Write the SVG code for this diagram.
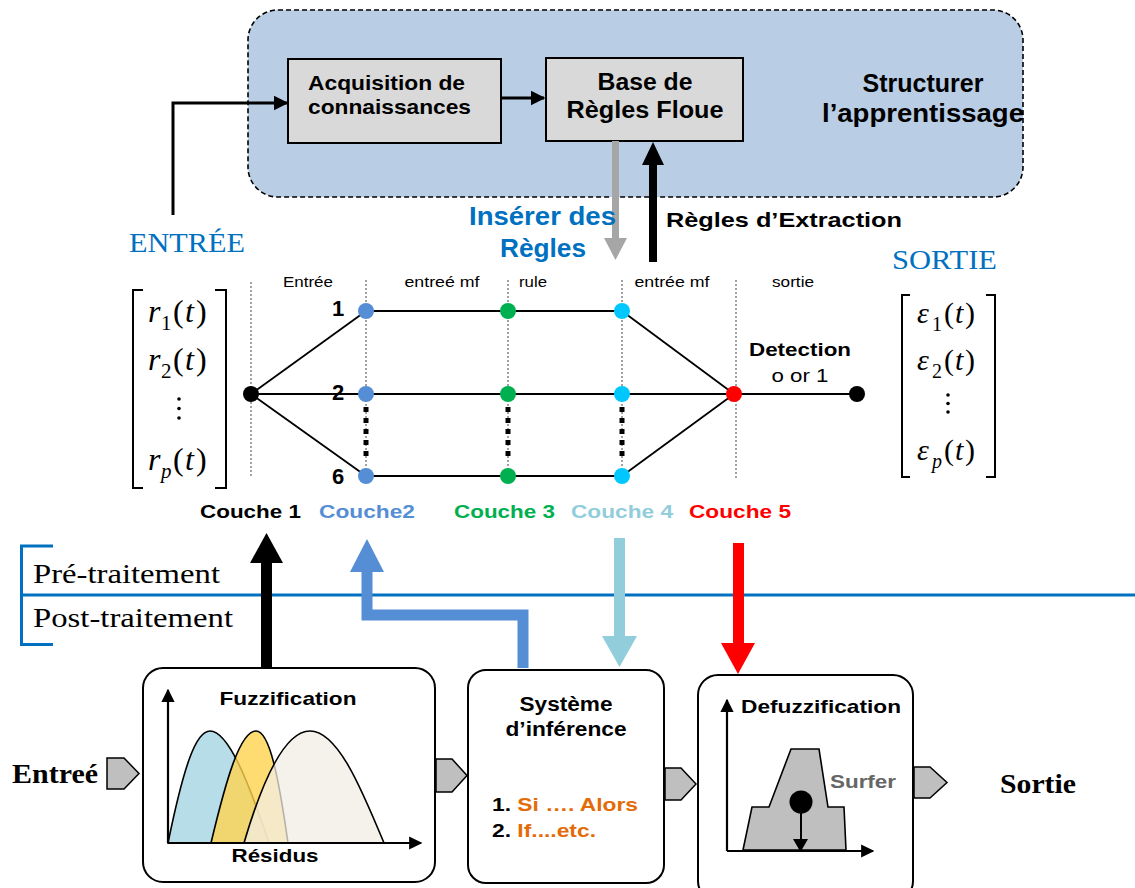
<svg xmlns="http://www.w3.org/2000/svg" width="1135" height="888" viewBox="0 0 1135 888">
  <defs>
    <marker id="tri" viewBox="0 0 10 10" refX="9" refY="5" markerWidth="5" markerHeight="5" orient="auto" markerUnits="strokeWidth">
      <path d="M0,0 L10,5 L0,10 z" fill="#000"/>
    </marker>
    <marker id="axis" viewBox="0 0 10 10" refX="9" refY="5" markerWidth="6" markerHeight="6" orient="auto" markerUnits="strokeWidth">
      <path d="M0,0 L10,5 L0,10 z" fill="#000"/>
    </marker>
    <style>
      .sans { font-family: "Liberation Sans", Arial, sans-serif; }
      .serif { font-family: "Liberation Serif", "Times New Roman", serif; }
      .b { font-weight: bold; }
      .box { fill: #d9d9d9; stroke: #000; stroke-width: 2; }
      .panel { fill: #fff; stroke: #000; stroke-width: 2; }
      .edge { stroke: #000; stroke-width: 1.8; fill: none; }
      .guide { stroke: #444; stroke-width: 1; stroke-dasharray: 2 2; fill: none; }
      .dots { stroke: #000; stroke-width: 5; stroke-dasharray: 5 6; fill: none; }
      .port { fill: #bfbfbf; stroke: #000; stroke-width: 1.5; }
      .brk { fill: none; stroke: #000; stroke-width: 2; }
    </style>
  </defs>

  <!-- learning structure panel -->
  <g id="learning">
    <rect x="248" y="10" width="775" height="187" rx="30" fill="#b9cde5" stroke="#000" stroke-width="1.6" stroke-dasharray="5 3"/>
    <text class="sans b" x="923" y="92" font-size="25" text-anchor="middle">Structurer</text>
    <text class="sans b" x="923" y="122" font-size="25" text-anchor="middle" textLength="202" lengthAdjust="spacingAndGlyphs">l’apprentissage</text>
  </g>
  <g id="acquisition">
    <rect class="box" x="288" y="59" width="213" height="84"/>
    <text class="sans b" x="308" y="90" font-size="21" textLength="157" lengthAdjust="spacingAndGlyphs">Acquisition de</text>
    <text class="sans b" x="308" y="114" font-size="21" textLength="163" lengthAdjust="spacingAndGlyphs">connaissances</text>
  </g>
  <g id="rule-base">
    <rect class="box" x="546" y="58" width="197" height="83"/>
    <text class="sans b" x="645" y="90" font-size="23" text-anchor="middle" textLength="95" lengthAdjust="spacingAndGlyphs">Base de</text>
    <text class="sans b" x="645" y="118" font-size="23" text-anchor="middle" textLength="157" lengthAdjust="spacingAndGlyphs">Règles Floue</text>
  </g>

  <!-- top connectors -->
  <g id="top-connectors">
    <path d="M173,215 V103 H287" fill="none" stroke="#000" stroke-width="3" marker-end="url(#tri)"/>
    <path d="M501,98 H544" fill="none" stroke="#000" stroke-width="3" marker-end="url(#tri)"/>
    <!-- insert rules (grey, down) -->
    <rect x="612" y="141" width="7" height="97" fill="#a6a6a6"/>
    <polygon points="604,238 627,238 615.5,260" fill="#a6a6a6"/>
    <!-- rule extraction (black, up) -->
    <rect x="649" y="165" width="8" height="97" fill="#000"/>
    <polygon points="642,165 664,165 653,142" fill="#000"/>
    <text class="sans b" x="616" y="225" font-size="25" fill="#0070c0" text-anchor="end" textLength="147" lengthAdjust="spacingAndGlyphs">Insérer des</text>
    <text class="sans b" x="543" y="257" font-size="25" fill="#0070c0" text-anchor="middle" textLength="86" lengthAdjust="spacingAndGlyphs">Règles</text>
    <text class="sans b" x="666" y="227" font-size="21" textLength="236" lengthAdjust="spacingAndGlyphs">Règles d’Extraction</text>
  </g>

  <!-- input / output labels -->
  <text class="serif" x="129" y="252" font-size="27" fill="#0070c0" textLength="116" lengthAdjust="spacingAndGlyphs">ENTRÉE</text>
  <text class="serif" x="892" y="269" font-size="27" fill="#0070c0" textLength="105" lengthAdjust="spacingAndGlyphs">SORTIE</text>

  <!-- input vector -->
  <g id="input-vector" class="serif">
    <path class="brk" d="M143,290 H133 V488 H143"/>
    <path class="brk" d="M215,290 H226 V488 H215"/>
    <text y="322" font-size="32"><tspan x="148" font-style="italic">r</tspan><tspan x="161" y="330" font-size="21">1</tspan><tspan x="173" y="322">(</tspan><tspan x="185" font-style="italic">t</tspan><tspan x="196">)</tspan></text>
    <text y="370" font-size="32"><tspan x="148" font-style="italic">r</tspan><tspan x="161" y="378" font-size="21">2</tspan><tspan x="173" y="370">(</tspan><tspan x="185" font-style="italic">t</tspan><tspan x="196">)</tspan></text>
    <circle cx="179" cy="399" r="1.8"/>
    <circle cx="179" cy="408.5" r="1.8"/>
    <circle cx="179" cy="418" r="1.8"/>
    <text y="470" font-size="32"><tspan x="148" font-style="italic">r</tspan><tspan x="161" y="478" font-size="21" font-style="italic">p</tspan><tspan x="173" y="470">(</tspan><tspan x="185" font-style="italic">t</tspan><tspan x="196">)</tspan></text>
  </g>

  <!-- output vector -->
  <g id="output-vector" class="serif">
    <path class="brk" d="M910,295 H902 V477 H910"/>
    <path class="brk" d="M986,295 H995 V477 H986"/>
    <text y="323" font-size="30"><tspan x="917" font-style="italic">ε</tspan><tspan x="932" y="331" font-size="20">1</tspan><tspan x="944" y="323">(</tspan><tspan x="955" font-style="italic">t</tspan><tspan x="965">)</tspan></text>
    <text y="370" font-size="30"><tspan x="917" font-style="italic">ε</tspan><tspan x="932" y="378" font-size="20">2</tspan><tspan x="944" y="370">(</tspan><tspan x="955" font-style="italic">t</tspan><tspan x="965">)</tspan></text>
    <circle cx="948" cy="395" r="1.8"/>
    <circle cx="948" cy="403.5" r="1.8"/>
    <circle cx="948" cy="412" r="1.8"/>
    <text y="460" font-size="30"><tspan x="917" font-style="italic">ε</tspan><tspan x="932" y="468" font-size="20" font-style="italic">p</tspan><tspan x="944" y="460">(</tspan><tspan x="955" font-style="italic">t</tspan><tspan x="965">)</tspan></text>
  </g>

  <!-- layer guides and headings -->
  <g id="layer-guides">
    <path class="guide" d="M251,282 V478"/>
    <path class="guide" d="M366,280 V478"/>
    <path class="guide" d="M508,280 V478"/>
    <path class="guide" d="M622,280 V478"/>
    <path class="guide" d="M736,280 V478"/>
    <g class="sans" font-size="15" text-anchor="middle">
      <text x="308" y="287" textLength="50" lengthAdjust="spacingAndGlyphs">Entrée</text>
      <text x="442" y="287" textLength="75" lengthAdjust="spacingAndGlyphs">entreé mf</text>
      <text x="533" y="287" textLength="28" lengthAdjust="spacingAndGlyphs">rule</text>
      <text x="672" y="287" textLength="75" lengthAdjust="spacingAndGlyphs">entrée mf</text>
      <text x="793" y="287" textLength="42" lengthAdjust="spacingAndGlyphs">sortie</text>
    </g>
  </g>

  <!-- network connectors -->
  <g id="network-edges">
    <path class="edge" d="M251,394 L366,311"/>
    <path class="edge" d="M251,394 L366,394"/>
    <path class="edge" d="M251,394 L366,476"/>
    <path class="edge" d="M366,311 H622"/>
    <path class="edge" d="M366,394 H622"/>
    <path class="edge" d="M366,476 H622"/>
    <path class="edge" d="M622,311 L734,394"/>
    <path class="edge" d="M622,394 L734,394"/>
    <path class="edge" d="M622,476 L734,394"/>
    <path class="edge" d="M734,394 H857"/>
    <path class="dots" d="M366,407 V458"/>
    <path class="dots" d="M508,407 V458"/>
    <path class="dots" d="M622,407 V458"/>
  </g>

  <!-- network nodes -->
  <g id="layer1"><circle cx="251" cy="394" r="8" fill="#000"/></g>
  <g id="layer2" fill="#558ed5">
    <circle cx="366" cy="311" r="8"/><circle cx="366" cy="394" r="8"/><circle cx="366" cy="476" r="8"/>
  </g>
  <g id="layer3" fill="#00b050">
    <circle cx="508" cy="311" r="8"/><circle cx="508" cy="394" r="8"/><circle cx="508" cy="476" r="8"/>
  </g>
  <g id="layer4" fill="#00c8ff">
    <circle cx="622" cy="311" r="8"/><circle cx="622" cy="394" r="8"/><circle cx="622" cy="476" r="8"/>
  </g>
  <g id="layer5"><circle cx="734" cy="394" r="8" fill="#ff0000"/></g>
  <g id="detection">
    <circle cx="857" cy="394" r="8" fill="#000"/>
    <text class="sans b" x="800" y="356" font-size="19" text-anchor="middle" textLength="102" lengthAdjust="spacingAndGlyphs">Detection</text>
    <text class="sans" x="800" y="382" font-size="19" text-anchor="middle" textLength="57" lengthAdjust="spacingAndGlyphs">o or 1</text>
  </g>
  <g class="sans b" font-size="22">
    <text x="338" y="316" text-anchor="middle">1</text>
    <text x="338" y="400" text-anchor="middle">2</text>
    <text x="338" y="484" text-anchor="middle">6</text>
  </g>

  <!-- layer names -->
  <g id="layer-names" class="sans b" font-size="18">
    <text x="200" y="518" textLength="101" lengthAdjust="spacingAndGlyphs">Couche 1</text>
    <text x="319" y="518" fill="#558ed5" textLength="96" lengthAdjust="spacingAndGlyphs">Couche2</text>
    <text x="454" y="518" fill="#00b050" textLength="101" lengthAdjust="spacingAndGlyphs">Couche 3</text>
    <text x="571" y="518" fill="#92cddc" textLength="102" lengthAdjust="spacingAndGlyphs">Couche 4</text>
    <text x="689" y="518" fill="#ff0000" textLength="102" lengthAdjust="spacingAndGlyphs">Couche 5</text>
  </g>

  <!-- pre / post processing separator -->
  <g id="separator">
    <path d="M53,546 H21.5 V644.5 H53" fill="none" stroke="#0070c0" stroke-width="3"/>
    <path d="M21.5,595 H1135" stroke="#0070c0" stroke-width="3"/>
    <text class="serif" x="33" y="583" font-size="27" textLength="187" lengthAdjust="spacingAndGlyphs">Pré-traitement</text>
    <text class="serif" x="33" y="627" font-size="27" textLength="200" lengthAdjust="spacingAndGlyphs">Post-traitement</text>
  </g>

  <!-- vertical links between processing stages and layers -->
  <g id="stage-links">
    <rect x="261" y="562" width="11" height="106" fill="#000"/>
    <polygon points="250,563 283,563 266.5,533" fill="#000"/>
    <path d="M523,668 V615 H367 V571" fill="none" stroke="#558ed5" stroke-width="11"/>
    <polygon points="350,572 384,572 367,539" fill="#558ed5"/>
    <rect x="614" y="538" width="11" height="99" fill="#92cddc"/>
    <polygon points="602,636 637,636 619.5,667" fill="#92cddc"/>
    <rect x="733" y="543" width="11" height="101" fill="#ff0000"/>
    <polygon points="721,643 755,643 738,674" fill="#ff0000"/>
  </g>

  <!-- flow ports -->
  <g id="ports">
    <text class="serif b" x="12" y="783" font-size="28" textLength="86" lengthAdjust="spacingAndGlyphs">Entreé</text>
    <polygon class="port" points="107,758 124,758 139,773.5 124,789 107,789"/>
    <polygon class="port" points="436,759 452,759 467,775.5 452,792 436,792"/>
    <polygon class="port" points="665,768 681,768 696,784 681,800 665,800"/>
    <polygon class="port" points="914,767 930,767 947,782.5 930,798 914,798"/>
    <text class="serif b" x="1000" y="793" font-size="28" textLength="76" lengthAdjust="spacingAndGlyphs">Sortie</text>
  </g>

  <!-- fuzzification -->
  <g id="fuzzification">
    <rect class="panel" x="143" y="668" width="292" height="214" rx="20"/>
    <path d="M168,843 C184,765 196,731 210,731 C228,731 248,780 269,843 Z" fill="#b7dde8" stroke="#000" stroke-width="1.6"/>
    <path d="M211,843 C226,780 240,731 256,731 C270,731 279,780 288,843 Z" fill="#ffd34f" fill-opacity="0.8" stroke="#000" stroke-width="1.6"/>
    <path d="M244,843 C264,775 286,731 310,731 C338,731 362,790 384,843 Z" fill="#f2eee6" fill-opacity="0.75" stroke="#000" stroke-width="1.6"/>
    <path d="M168,843 V690" stroke="#000" stroke-width="2.2" marker-end="url(#axis)"/>
    <path d="M168,843 H421" stroke="#000" stroke-width="2.2" marker-end="url(#axis)"/>
    <text class="sans b" x="288" y="705" font-size="19" text-anchor="middle" textLength="137" lengthAdjust="spacingAndGlyphs">Fuzzification</text>
    <text class="sans b" x="275" y="862" font-size="19" text-anchor="middle" textLength="87" lengthAdjust="spacingAndGlyphs">Résidus</text>
  </g>

  <!-- inference system -->
  <g id="inference">
    <rect class="panel" x="468" y="670" width="196" height="213" rx="18"/>
    <text class="sans b" x="566" y="711" font-size="20" text-anchor="middle" textLength="93" lengthAdjust="spacingAndGlyphs">Système</text>
    <text class="sans b" x="566" y="736" font-size="20" text-anchor="middle" textLength="121" lengthAdjust="spacingAndGlyphs">d’inférence</text>
    <text class="sans b" x="492" y="811" font-size="19" textLength="146" lengthAdjust="spacingAndGlyphs">1. <tspan fill="#e36c09">Si …. Alors</tspan></text>
    <text class="sans b" x="492" y="837" font-size="19" textLength="104" lengthAdjust="spacingAndGlyphs">2. <tspan fill="#e36c09">If....etc.</tspan></text>
  </g>

  <!-- defuzzification -->
  <g id="defuzzification">
    <rect class="panel" x="698" y="675" width="215" height="226" rx="20"/>
    <polygon points="743,850 752,807 769,807 791,749 819,749 828,807 844,807 846,850" fill="#bfbfbf" stroke="#000" stroke-width="1.6"/>
    <path d="M727,851 V700" stroke="#000" stroke-width="2.2" marker-end="url(#axis)"/>
    <path d="M727,851 H873" stroke="#000" stroke-width="2.2" marker-end="url(#axis)"/>
    <circle cx="801" cy="802" r="11.5" fill="#000"/>
    <path d="M801,802 V840" stroke="#000" stroke-width="2"/>
    <polygon points="793,839 808,839 800.5,852" fill="#000"/>
    <text class="sans b" x="741" y="713" font-size="19" textLength="160" lengthAdjust="spacingAndGlyphs">Defuzzification</text>
    <text class="sans b" x="830" y="788" font-size="19" fill="#666" textLength="66" lengthAdjust="spacingAndGlyphs">Surfer</text>
  </g>
</svg>
